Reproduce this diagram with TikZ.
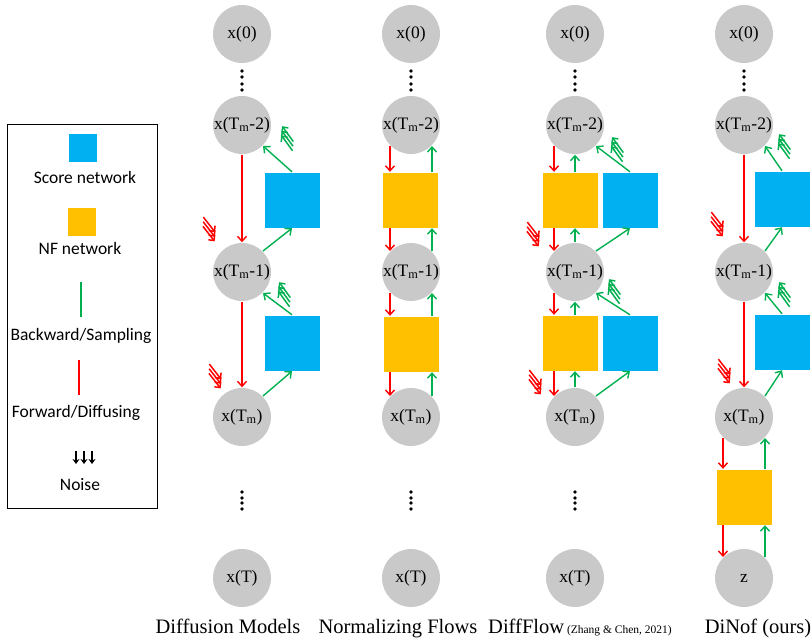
\documentclass[tikz,border=0pt]{standalone}
\usepackage{fontspec}
\setmainfont{Liberation Serif}
\newfontfamily\legendfont{Carlito}
\usetikzlibrary{arrows.meta}
\definecolor{scoreblue}{RGB}{0,176,240}
\definecolor{nforange}{RGB}{255,192,0}
\definecolor{backgreen}{RGB}{0,176,80}
\definecolor{nodegray}{RGB}{201,201,201}
\begin{document}
\begin{tikzpicture}[x=1pt, y=-1pt, >={Straight Barb[length=5pt,width=9pt]}, line width=1.4pt,
  state/.style={circle, fill=nodegray, minimum size=58pt, inner sep=0pt, font=\fontsize{17.5}{20}\selectfont},
  score/.style={fill=scoreblue, minimum width=55pt, minimum height=55pt, inner sep=0pt},
  nf/.style={fill=nforange, minimum width=55pt, minimum height=55pt, inner sep=0pt},
  fwd/.style={->, red},
  bwd/.style={->, backgreen},
  noise/.pic={\foreach \k in {0,1,2} \draw[-{Straight Barb[length=4pt,width=8pt]}, line width=1.5pt] ({\k*3.5},{(\k-1)*3}) -- ++(19,0);},
  title/.style={anchor=base, font=\fontsize{20.5}{24}\selectfont},
  legend/.style={font=\legendfont\fontsize{17.5}{20}\selectfont}]
\useasboundingbox (0,0) rectangle (812,640);
% Legend
% ---
\draw[line width=0.8pt] (7,124) rectangle (157,508);
\node[fill=scoreblue, minimum size=28pt, inner sep=0pt] (Lscore) at (83,148) {};
\node[legend] (Lscoretxt) at (85,177) {Score network};
\node[fill=nforange, minimum size=28pt, inner sep=0pt] (Lnf) at (82,222) {};
\node[legend] (Lnftxt) at (80,248) {NF network};
\draw[backgreen, line width=1.6pt] (81,282) -- (81,317);
\node[legend] (Lbwd) at (81,336) {Backward/Sampling};
\draw[red, line width=1.6pt] (79,360) -- (79,395);
\node[legend] (Lfwd) at (76,413) {Forward/Diffusing};
\foreach \xx in {76,84,92} \draw[-{Stealth[length=5pt,width=7pt]}, line width=1.3pt] (\xx,451) -- (\xx,464);
\node[legend] (Lnoise) at (80,485) {Noise};
% Dots
% ---
\foreach \xx in {242,411,575,744} \foreach \yy in {71,77,84,90} \fill (\xx,\yy) circle (1.8);
\foreach \xx in {242,411,575} \foreach \yy in {492,498,503,509} \fill (\xx,\yy) circle (1.8);
% ---
% Diffusion Models
% ---
\node[state] (A0) at (242,34) {x(0)};
\node[state] (A2) at (242,125) {x(T\textsubscript{m}-2)};
\node[state] (A1) at (242,272) {x(T\textsubscript{m}-1)};
\node[state] (Am) at (242,417) {x(T\textsubscript{m})};
\node[state] (AT) at (242,578) {x(T)};
\node[score] (Sa1) at (292,200) {};
\node[score] (Sa2) at (292,343) {};
\draw[fwd] (A2) -- (A1);
\draw[fwd] (A1) -- (Am);
\draw[bwd] (Sa1.north) -- (A2.-45);
\draw[bwd] (A1.45) -- (Sa1.south);
\draw[bwd] (Sa2.north) -- (A1.-45);
\draw[bwd] (Am.45) -- (Sa2.south);
\pic[red, rotate=-52] at (201,219) {noise};
\pic[red, rotate=-52] at (207,366) {noise};
\pic[backgreen, rotate=126] at (295,149) {noise};
\pic[backgreen, rotate=126] at (292,305) {noise};
\node[title] (Ta) at (228,633) {Diffusion Models};
% ---
% Normalizing Flows
% ---
\node[state] (B0) at (411,34) {x(0)};
\node[state] (B2) at (411,125) {x(T\textsubscript{m}-2)};
\node[state] (B1) at (411,272) {x(T\textsubscript{m}-1)};
\node[state] (Bm) at (411,417) {x(T\textsubscript{m})};
\node[state] (BT) at (411,578) {x(T)};
\node[nf] (Nb1) at (410,200) {};
\node[nf] (Nb2) at (411,344) {};
\draw[fwd] (B2.-135) -- (B2.-135 |- Nb1.north);
\draw[fwd] (Nb1.south -| B2.-135) -- (B1.135);
\draw[bwd] (Nb1.north -| B2.-45) -- (B2.-45);
\draw[bwd] (B1.45) -- (B1.45 |- Nb1.south);
\draw[fwd] (B1.-135) -- (B1.-135 |- Nb2.north);
\draw[fwd] (Nb2.south -| B1.-135) -- (Bm.135);
\draw[bwd] (Nb2.north -| B1.-45) -- (B1.-45);
\draw[bwd] (Bm.45) -- (Bm.45 |- Nb2.south);
\node[title] (Tb) at (398,633) {Normalizing Flows};
% ---
% DiffFlow
% ---
\node[state] (C0) at (575,34) {x(0)};
\node[state] (C2) at (575,125) {x(T\textsubscript{m}-2)};
\node[state] (C1) at (575,272) {x(T\textsubscript{m}-1)};
\node[state] (Cm) at (575,417) {x(T\textsubscript{m})};
\node[state] (CT) at (575,578) {x(T)};
\node[nf] (Nc1) at (570,200) {};
\node[nf] (Nc2) at (570,343) {};
\node[score] (Sc1) at (630,200) {};
\node[score] (Sc2) at (630,343) {};
\draw[fwd] (C2.-135) -- (C2.-135 |- Nc1.north);
\draw[fwd] (Nc1.south -| C2.-135) -- (C1.135);
\draw[bwd] (Nc1.north -| C2.south) -- (C2.south);
\draw[bwd] (C1.north) -- (C1.north |- Nc1.south);
\draw[bwd] (Sc1.north) -- (C2.-45);
\draw[bwd] (C1.45) -- (Sc1.south);
\draw[fwd] (C1.-135) -- (C1.-135 |- Nc2.north);
\draw[fwd] (Nc2.south -| C1.-135) -- (Cm.135);
\draw[bwd] (Nc2.north -| C1.south) -- (C1.south);
\draw[bwd] (Cm.north) -- (Cm.north |- Nc2.south);
\draw[bwd] (Sc2.north) -- (C1.-45);
\draw[bwd] (Cm.45) -- (Sc2.south);
\pic[red, rotate=-52] at (525,224) {noise};
\pic[red, rotate=-52] at (527,372) {noise};
\pic[backgreen, rotate=126] at (625,160) {noise};
\pic[backgreen, rotate=126] at (622,302) {noise};
\node[title] (Tc) at (580,633) {DiffFlow{\fontsize{11.5}{13}\selectfont\ (Zhang \& Chen, 2021)}};
% ---
% DiNof
% ---
\node[state] (D0) at (744,34) {x(0)};
\node[state] (D2) at (744,125) {x(T\textsubscript{m}-2)};
\node[state] (D1) at (744,272) {x(T\textsubscript{m}-1)};
\node[state] (Dm) at (744,417) {x(T\textsubscript{m})};
\node[state] (Dz) at (744,578) {z};
\node[score] (Sd1) at (782,199) {};
\node[score] (Sd2) at (782,342) {};
\node[nf] (Nd) at (744,497) {};
\draw[fwd] (D2) -- (D1);
\draw[fwd] (D1) -- (Dm);
\draw[bwd] (Sd1.north) -- (D2.-45);
\draw[bwd] (D1.45) -- (Sd1.south);
\draw[bwd] (Sd2.north) -- (D1.-45);
\draw[bwd] (Dm.45) -- (Sd2.south);
\draw[fwd] (Dm.-135) -- (Dm.-135 |- Nd.north);
\draw[fwd] (Nd.south -| Dm.-135) -- (Dz.135);
\draw[bwd] (Dz.45) -- (Dz.45 |- Nd.south);
\draw[bwd] (Nd.north -| Dm.-45) -- (Dm.-45);
\pic[red, rotate=-52] at (709,214) {noise};
\pic[red, rotate=-52] at (716,361) {noise};
\pic[backgreen, rotate=126] at (792,157) {noise};
\pic[backgreen, rotate=126] at (792,305) {noise};
\node[title] (Td) at (758,633) {DiNof (ours)};
\end{tikzpicture}
\end{document}
